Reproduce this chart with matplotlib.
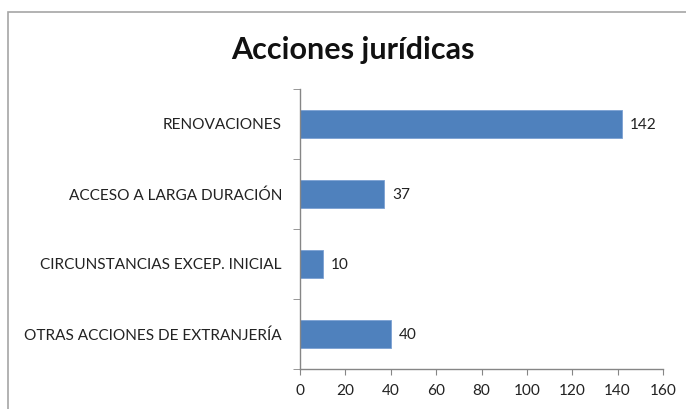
import matplotlib
matplotlib.use('Agg')
import matplotlib.pyplot as plt
from matplotlib.patches import Rectangle
from matplotlib.ticker import FixedLocator

categories = ['RENOVACIONES', 'ACCESO A LARGA DURACIÓN',
              'CIRCUNSTANCIAS EXCEP. INICIAL', 'OTRAS ACCIONES DE EXTRANJERÍA']
values = [142, 37, 10, 40]
xticks = [0, 20, 40, 60, 80, 100, 120, 140, 160]
title = 'Acciones jurídicas'

plt.rcParams['font.family'] = ['Lato', 'DejaVu Sans']

fig = plt.figure(figsize=(6.86, 4.09), dpi=100)
ax = fig.add_axes([0.4373, 0.0978, 0.5292, 0.6846])

pos = list(range(len(categories)))
ax.barh(pos, values, height=0.39, color='#4F81BD', edgecolor='#7BA1D3', linewidth=0.6)
for p, v in zip(pos, values):
    ax.text(v + 3.5, p + 0.02, str(v), va='center', ha='left', fontsize=11.1, color='#222222')

ax.set_xlim(0, 160)
ax.set_ylim(len(categories) - 0.5, -0.5)
ax.set_xticks(xticks)
ax.set_yticks(pos)
ax.set_yticklabels(categories)
ax.yaxis.set_minor_locator(FixedLocator([i - 0.5 for i in range(len(categories) + 1)]))

for s in ['top', 'right']:
    ax.spines[s].set_visible(False)
for s in ['left', 'bottom']:
    ax.spines[s].set_color('#868686')
    ax.spines[s].set_linewidth(1.0)

ax.tick_params(axis='y', which='major', length=0, pad=13, labelsize=11.1, labelcolor='#222222')
ax.tick_params(axis='y', which='minor', length=5, color='#868686', direction='out')
ax.tick_params(axis='x', which='major', length=4, color='#868686', pad=7, labelsize=11.1, labelcolor='#222222')

fig.text(0.515, 0.878, title, ha='center', va='center', fontsize=22, fontweight='bold', color='#111111')

border = Rectangle((8 / 686, -0.2), 1.5, 0.2 + 1 - 12 / 409, transform=fig.transFigure,
                   fill=False, edgecolor='#A6A6A6', linewidth=1.2, clip_on=False)
fig.patches.append(border)

fig.savefig('out.png', dpi=100)
